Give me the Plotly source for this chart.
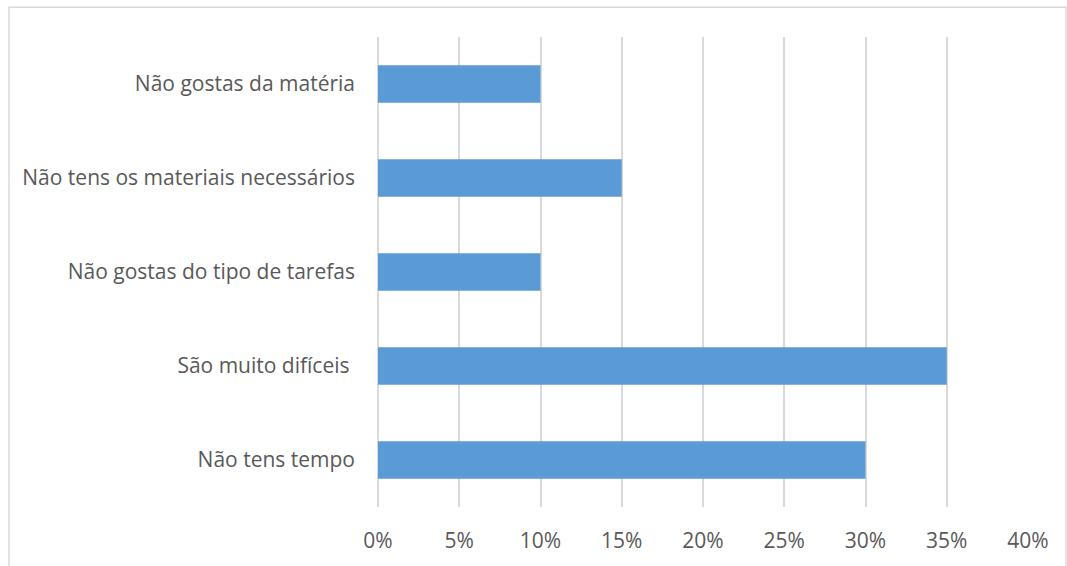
import plotly.graph_objects as go

categories = [
    "Não tens tempo",
    "São muito difíceis ",
    "Não gostas do tipo de tarefas",
    "Não tens os materiais necessários",
    "Não gostas da matéria",
]
values = [0.30, 0.35, 0.10, 0.15, 0.10]
tick_vals = [0, 0.05, 0.10, 0.15, 0.20, 0.25, 0.30, 0.35, 0.40]
tick_text = ["0%", "5%", "10%", "15%", "20%", "25%", "30%", "35%", "40%"]

fig = go.Figure(
    go.Bar(
        x=values,
        y=categories,
        orientation="h",
        marker=dict(color="#5B9BD5", line=dict(width=0)),
        hoverinfo="x+y",
    )
)

font_family = "'Open Sans', Lato, sans-serif"

fig.update_layout(
    width=1067,
    height=566,
    margin=dict(l=378, r=39, t=37, b=56),
    paper_bgcolor="white",
    plot_bgcolor="white",
    bargap=0.6,
    showlegend=False,
    font=dict(family=font_family, size=21, color="#595959"),
    xaxis=dict(
        range=[0, 0.40],
        tickvals=tick_vals,
        ticktext=tick_text,
        showgrid=True,
        gridcolor="#D9D9D9",
        gridwidth=1.5,
        zeroline=True,
        zerolinecolor="#D9D9D9",
        zerolinewidth=1.5,
        showline=False,
        ticks="",
        ticklabelstandoff=19,
        tickfont=dict(size=21, color="#595959"),
        fixedrange=True,
    ),
    yaxis=dict(
        categoryorder="array",
        categoryarray=categories,
        showgrid=False,
        zeroline=False,
        showline=False,
        ticks="",
        ticklabelstandoff=22,
        tickfont=dict(size=21, color="#595959"),
        fixedrange=True,
    ),
    shapes=[
        dict(
            type="rect",
            xref="paper",
            yref="paper",
            x0=(9 - 378) / 650,
            x1=(1066 - 378) / 650,
            y0=(510 - 575) / 473,
            y1=(510 - 7) / 473,
            line=dict(color="#D9D9D9", width=1.5),
            fillcolor="rgba(0,0,0,0)",
            layer="below",
        )
    ],
)

fig.write_html(
    "out.html",
    config={"displayModeBar": False},
    post_script="document.body.style.margin='0px';document.body.style.overflow='hidden';",
)
